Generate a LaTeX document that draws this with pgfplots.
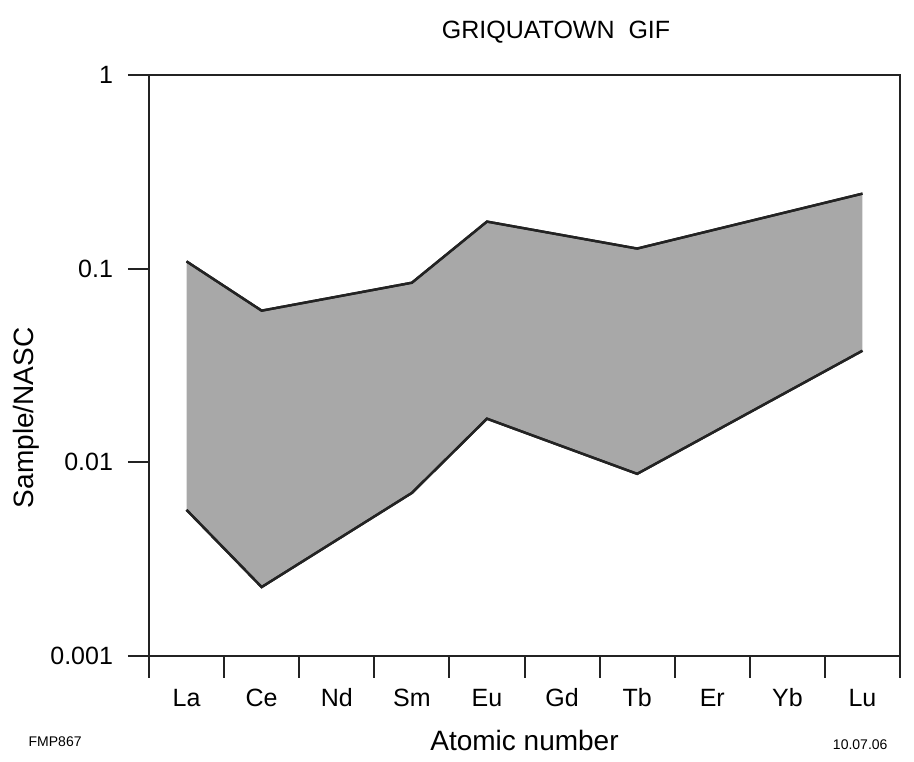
\documentclass[border=0pt]{standalone}
\usepackage{fontspec}
\setmainfont{Liberation Sans}
\usepackage{pgfplots}
\pgfplotsset{compat=1.18}
\usepgfplotslibrary{fillbetween}
\definecolor{fillgray}{RGB}{168,168,168}
\definecolor{linec}{RGB}{35,35,35}
\begin{document}
\begin{tikzpicture}
\begin{axis}[
  name=ax,
  scale only axis,
  width=375.5pt, height=290.5pt,
  ymode=log,
  xmin=-0.5, xmax=9.5,
  ymin=0.001, ymax=1,
  axis line style={line width=1pt, linec},
  xtick={0,1,2,3,4,5,6,7,8,9},
  xticklabels={La,Ce,Nd,Sm,Eu,Gd,Tb,Er,Yb,Lu},
  minor xtick={-0.5,0.5,1.5,2.5,3.5,4.5,5.5,6.5,7.5,8.5,9.5},
  major x tick style={draw=none},
  minor x tick style={line width=1pt, linec},
  minor tick length=11pt,
  xticklabel style={anchor=north, yshift=-2pt, text height=9pt, text depth=2.5pt, font=\fontsize{12.5}{14}\selectfont},
  ytick={0.001,0.01,0.1,1},
  yticklabels={0.001,0.01,0.1,1},
  yminorticks=false,
  major y tick style={line width=1pt, linec},
  major tick length=10.5pt,
  yticklabel style={font=\fontsize{12.5}{14}\selectfont, xshift=-4pt},
  tick align=outside,
  xtick pos=bottom, ytick pos=left,
  xlabel={Atomic number},
  xlabel style={at={(axis description cs:0.5,-0.145)}, anchor=center, font=\fontsize{14}{16}\selectfont},
  ylabel={Sample/NASC},
  ylabel style={at={(axis description cs:-0.163,0.41)}, anchor=center, rotate=0, font=\fontsize{14}{16}\selectfont},
  clip=false,
]
\addplot[name path=upper, line width=1.2pt, linec] coordinates {
  (0,0.109) (1,0.0607) (3,0.0846) (4,0.175) (6,0.127) (9,0.244)
};
\addplot[name path=lower, line width=1.2pt, linec] coordinates {
  (0,0.00568) (1,0.00227) (3,0.00695) (4,0.0168) (6,0.00872) (9,0.0377)
};
\addplot[fillgray, draw=none] fill between[of=upper and lower];
\addplot[line width=1.2pt, linec] coordinates {
  (0,0.109) (1,0.0607) (3,0.0846) (4,0.175) (6,0.127) (9,0.244)
};
\addplot[line width=1.2pt, linec] coordinates {
  (0,0.00568) (1,0.00227) (3,0.00695) (4,0.0168) (6,0.00872) (9,0.0377)
};
\node[font=\fontsize{12.5}{14}\selectfont, anchor=center] at (axis description cs:0.542,1.074) {GRIQUATOWN\ \ GIF};
\node[font=\fontsize{7}{8}\selectfont, anchor=center] at (axis description cs:-0.125,-0.148) {FMP867};
\node[font=\fontsize{7}{8}\selectfont, anchor=center] at (axis description cs:0.947,-0.153) {10.07.06};
\end{axis}
\pgfresetboundingbox
\path[use as bounding box] (ax.south west) ++(-74.5pt,-52.5pt) rectangle ++(457pt,380.5pt);
\end{tikzpicture}
\end{document}
